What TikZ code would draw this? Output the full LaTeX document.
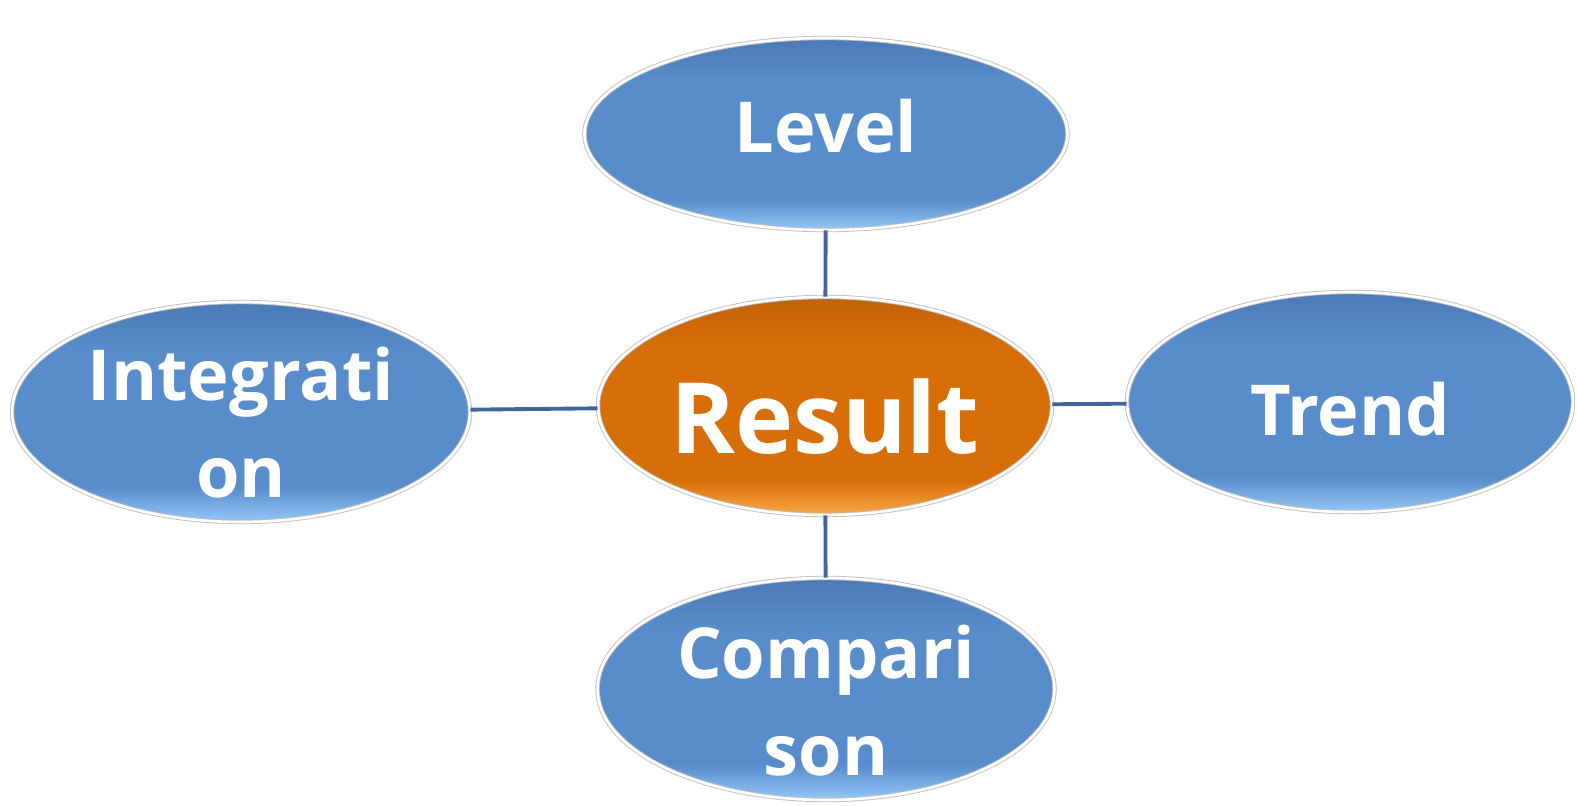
\documentclass[tikz,border=0pt]{standalone}
\usepackage{fontspec}
\setmainfont{Open Sans}
\usetikzlibrary{positioning,shapes.geometric}
\definecolor{bubbleblue}{HTML}{588CCB}
\definecolor{bubbletop}{HTML}{4A7AB6}
\definecolor{bubblelow}{HTML}{94C8F8}
\definecolor{resorange}{HTML}{D86E08}
\definecolor{restop}{HTML}{C0620A}
\definecolor{reslow}{HTML}{F8A848}
\definecolor{linkblue}{HTML}{41659A}
\pgfdeclareverticalshading{bluebevel}{100bp}{color(0bp)=(bubblelow); color(25bp)=(bubblelow);
  color(33bp)=(bubbleblue); color(64bp)=(bubbleblue); color(75bp)=(bubbletop); color(100bp)=(bubbletop)}
\pgfdeclareverticalshading{orangebevel}{100bp}{color(0bp)=(reslow); color(25bp)=(reslow);
  color(33bp)=(resorange); color(64bp)=(resorange); color(75bp)=(restop); color(100bp)=(restop)}

\begin{document}
\begin{tikzpicture}[
  bubble/.style={draw=gray!50,line width=0.5pt,double=white,double distance=1.5pt,
    ellipse,inner sep=0pt,shading=bluebevel,
    text=white,font=\bfseries\fontsize{40}{55}\selectfont,align=center},
  core/.style={bubble,shading=orangebevel,font=\bfseries\fontsize{56}{66}\selectfont},
  twoline/.style={text height=#1,text depth=0pt,inner ysep=-40pt},
  link/.style={linkblue,line width=2.2pt}]
\useasboundingbox (0,0) rectangle (31.54,16.1);

\node[core,minimum width=9.08cm,minimum height=4.36cm,text height=53.5pt,text depth=0pt] (res) at (16.5,7.98) {Result};
\node[bubble,minimum width=9.66cm,minimum height=3.84cm,text height=29pt,text depth=8.5pt] (lev) at (16.52,13.42) {Level};
\node[bubble,minimum width=9.16cm,minimum height=4.4cm,twoline=96.8pt] (int) at (4.82,7.86) {Integrati\\on};
\node[bubble,minimum width=8.92cm,minimum height=4.4cm,text height=37.6pt,text depth=0pt] (tre) at (27,8.06) {Trend};
\node[bubble,minimum width=9.14cm,minimum height=4.44cm,twoline=98pt] (com) at (16.52,2.32) {Compari\\son};

\draw[link] (lev) -- (res);
\draw[link] (int) -- (res);
\draw[link] (res) -- (tre);
\draw[link] (res) -- (com);

\end{tikzpicture}
\end{document}
